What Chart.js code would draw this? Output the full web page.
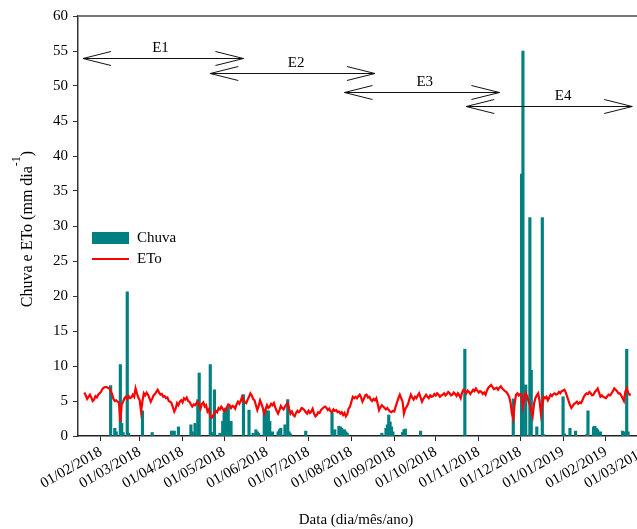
<!DOCTYPE html>
<html lang="pt-br">
<head>
  <meta charset="UTF-8">
  <title>Chuva e ETo</title>
  <script src="https://cdn.jsdelivr.net/npm/chart.js"></script>
  <style>
    html, body { margin: 0; padding: 0; overflow: hidden; background: #fff; }
    #grafico { display: block; }
  </style>
</head>
<body>
  <canvas id="grafico" width="680" height="529"></canvas>

  <script>
    // dias contados a partir de 01/01/2018
    function dia(s) {
      const [d, m, a] = s.split('/').map(Number);
      return (Date.UTC(a, m - 1, d) - Date.UTC(2018, 0, 1)) / 86400000;
    }

    const rotulosX = ["01/02/2018", "01/03/2018", "01/04/2018", "01/05/2018", "01/06/2018", "01/07/2018",
      "01/08/2018", "01/09/2018", "01/10/2018", "01/11/2018", "01/12/2018", "01/01/2019", "01/02/2019", "01/03/2019"];

    // ETo diária (mm dia-1), a partir de 20/01/2018
    const etoInicio = "20/01/2018";
    const eto = [
      6.2, 5.8, 5.3, 5.6, 5.9, 5.5, 5.0, 5.2, 5.7, 5.5, 5.9, 6.1, 6.3,
      6.7, 6.9, 7.0, 7.0, 6.9, 6.8, 6.5, 6.0, 5.3, 5.0, 5.1, 4.9, 4.8,
      2.0,
      4.5, 4.9, 5.4, 5.6, 5.3, 5.7, 5.4, 5.5, 5.9, 5.6, 6.8, 6.1, 5.5, 5.1, 3.5,
      5.0, 6.1, 5.8, 6.2, 5.9, 5.4, 4.9, 5.3, 5.8, 6.0, 6.3, 6.6,
      6.2, 5.9, 6.0, 5.6, 5.7, 5.4, 5.5, 5.0, 4.9, 4.7, 4.1, 3.5, 3.9, 4.7,
      4.4, 4.9, 5.1, 4.8, 5.4, 5.2, 5.5, 5.0, 4.9, 4.5, 4.2, 4.5, 4.4, 4.7,
      4.9, 4.5, 3.9, 4.6, 4.8, 4.2, 4.4, 3.5, 3.8, 2.8, 2.6, 2.9, 3.2, 3.6, 3.4, 4.0,
      3.8, 4.2, 3.9, 3.5, 3.7, 4.1, 4.5, 4.4, 4.0, 4.3, 4.2, 3.9, 4.5, 4.9, 4.6, 5.0, 5.6,
      5.1, 4.8, 4.7, 5.2, 5.6, 6.1, 5.8, 5.3, 5.1, 4.4, 3.7, 4.3, 5.1, 4.6, 4.0, 3.2,
      3.8, 4.4, 4.0, 4.2, 4.6, 4.4, 4.7, 4.1, 3.6, 3.2, 3.7, 4.3, 4.0, 3.8, 4.2, 4.5, 4.7, 3.9, 3.2,
      3.5, 3.0, 2.8, 3.3, 3.6, 3.4, 3.6, 4.0, 3.9, 3.7, 3.4, 3.2, 3.6, 3.3, 3.5, 3.9, 3.2, 2.8, 3.0, 3.4, 3.3, 3.7,
      3.9, 4.1, 4.2, 4.0, 3.7, 3.9, 3.5, 3.4, 3.8, 3.6, 3.7, 3.4, 3.5, 3.2, 3.4, 3.0, 3.3, 2.8, 3.1, 3.9, 4.2, 4.9, 5.6, 5.4, 5.6, 5.4,
      5.7, 5.9, 5.5, 4.9, 5.3, 5.8, 5.9, 5.5, 5.6, 5.2, 5.0, 5.3, 5.1, 5.4, 4.6, 3.7, 4.1, 4.4, 4.2, 4.0,
      3.8, 4.0, 3.7, 3.5, 3.4, 3.6, 3.5, 4.2, 4.8, 5.4, 5.9, 5.4, 4.9, 3.2,
      3.9, 4.2, 4.6, 5.3, 5.9, 5.5, 5.2, 5.6, 5.4, 5.8, 6.1, 5.5, 4.9, 5.3, 5.6, 5.9, 5.6, 5.4, 5.8, 5.6,
      5.7, 6.0, 5.8, 6.1, 5.9, 5.6, 5.8, 5.9, 6.1, 5.8, 6.0, 6.3, 6.1, 5.8, 5.9, 6.2, 6.0, 5.7, 6.1, 5.8,
      5.4, 6.2, 6.6, 6.4, 6.1, 6.5, 6.3, 6.0, 6.3, 6.6, 6.4, 6.8, 6.5, 6.2, 6.4, 6.3, 6.0, 6.2, 5.9, 6.5,
      6.9, 7.1, 7.3, 7.0, 6.7, 6.8, 6.9, 6.6, 6.9, 7.1, 6.8, 6.6, 6.4, 6.3, 6.0, 5.6, 4.8, 3.2, 2.5, 4.6,
      5.9, 6.1, 5.8, 6.0, 5.9, 4.2, 5.3, 6.1, 5.7, 5.0, 4.4, 3.5, 2.8, 4.6, 5.4, 5.8, 6.1, 5.0, 3.2, 4.5,
      5.6, 5.4, 5.6, 5.1, 5.5, 5.9, 5.7, 6.0, 6.1, 5.9, 6.0, 6.3, 6.1, 6.4, 6.5, 6.6, 6.2, 5.6, 5.0, 4.4,
      4.0, 4.3, 4.6, 4.7, 4.9, 4.6, 4.8, 4.7, 5.1, 5.6, 5.9, 6.1, 6.0, 6.3, 6.1, 5.8, 5.9, 6.3, 6.5, 6.8,
      6.2, 5.6, 5.8, 5.6, 5.5, 5.4, 5.7, 5.9, 5.8, 6.1, 6.4, 6.8, 6.6, 6.4, 6.1, 6.1, 5.8, 5.4, 5.0, 6.3,
      6.8, 6.2, 5.9, 5.9
    ];

    // chuva (mm), dias com registro
    const chuvaDias = [38, 41, 42, 45, 46, 47, 50, 51, 61, 68, 82, 83, 84, 87, 96, 97, 99, 101, 102, 110,
      111, 113, 117, 119, 120, 121, 122, 123, 124, 125, 134, 138, 141, 143, 144, 145, 149, 150, 152, 153,
      155, 159, 160, 161, 164, 166, 167, 168, 179, 198, 200, 203, 204, 205, 207, 208, 209, 234, 237, 238,
      239, 240, 241, 242, 249, 250, 251, 262, 294, 329, 335, 336, 338, 341, 342, 346, 350, 351, 365, 366,
      370, 374, 382, 383, 387, 388, 389, 390, 392, 408, 409, 411, 412];
    const chuva = [7.2, 1.1, 0.6, 10.2, 1.8, 0.5, 20.6, 0.4, 3.6, 0.5, 0.7, 0.7, 0.7, 1.3, 1.6, 0.6, 1.8, 5.2, 9.0, 10.2,
      0.5, 6.6, 0.4, 2.1, 3.3, 4.0, 3.6, 4.2, 2.1, 2.1, 5.9, 3.7, 0.4, 0.9, 0.6, 0.4, 3.7, 3.7, 3.6, 2.1,
      0.6, 0.6, 0.9, 1.1, 1.6, 5.2, 0.6, 0.3, 0.7, 3.3, 0.9, 1.4, 1.3, 1.1, 0.9, 0.6, 0.4, 0.4, 1.1, 1.6,
      3.0, 2.0, 1.3, 0.6, 0.5, 0.9, 1.0, 0.7, 12.4, 5.3, 37.4, 55.0, 7.3, 31.2, 9.4, 1.3, 31.2, 0.2, 5.6, 0.3,
      1.1, 0.7, 0.2, 3.6, 1.3, 1.4, 1.1, 0.9, 0.6, 0.7, 0.6, 12.4, 0.6];

    // fases E1..E4 (dias) e altura das setas (mm)
    const fases = ["E1", "E2", "E3", "E4"];
    const faseInicio = [18, 110, 207, 295];
    const faseFim = [134, 229, 319, 415];
    const faseNivel = [54, 51.9, 49.1, 47.1];
    const faseRotulo = [74, 172, 265, 365];

    const fonte = '"Liberation Serif", "Times New Roman", serif';
    const teal = '#008080';
    const vermelho = '#ff0000';

    const x0 = dia(etoInicio);
    const etoPontos = eto.map((v, i) => ({ x: x0 + i, y: v }));
    const chuvaPontos = chuvaDias.map((d, i) => ({ x: d, y: chuva[i] }));
    const tickDias = rotulosX.map(dia);

    const extras = {
      id: 'extras',
      afterDraw(chart) {
        const { ctx, chartArea: ca, scales: { x, y } } = chart;
        ctx.save();

        // borda superior
        ctx.strokeStyle = '#777';
        ctx.lineWidth = 2;
        ctx.beginPath();
        ctx.moveTo(ca.left, ca.top);
        ctx.lineTo(ca.right, ca.top);
        ctx.stroke();

        // setas das fases
        ctx.strokeStyle = '#111';
        ctx.lineWidth = 1;
        ctx.fillStyle = '#000';
        ctx.font = '15px ' + fonte;
        ctx.textAlign = 'center';
        ctx.textBaseline = 'alphabetic';
        fases.forEach((nome, i) => {
          const a = x.getPixelForValue(faseInicio[i]);
          const b = x.getPixelForValue(faseFim[i]);
          const h = Math.round(y.getPixelForValue(faseNivel[i])) + 0.5;
          ctx.beginPath();
          ctx.moveTo(a, h); ctx.lineTo(b, h);
          ctx.moveTo(a + 28, h - 7); ctx.lineTo(a, h); ctx.lineTo(a + 28, h + 7);
          ctx.moveTo(b - 28, h - 7); ctx.lineTo(b, h); ctx.lineTo(b - 28, h + 7);
          ctx.stroke();
          ctx.fillText(nome, x.getPixelForValue(faseRotulo[i]), h - 7);
        });

        // legenda
        ctx.textAlign = 'left';
        ctx.textBaseline = 'middle';
        ctx.fillStyle = teal;
        ctx.fillRect(92, 232, 37, 12);
        ctx.strokeStyle = vermelho;
        ctx.lineWidth = 2;
        ctx.beginPath();
        ctx.moveTo(92, 259); ctx.lineTo(129, 259);
        ctx.stroke();
        ctx.fillStyle = '#000';
        ctx.fillText('Chuva', 137, 238);
        ctx.fillText('ETo', 137, 259);

        // título eixo x
        ctx.textAlign = 'center';
        ctx.font = '15px ' + fonte;
        ctx.fillText('Data (dia/mês/ano)', 356, 520);

        // título eixo y com expoente
        ctx.translate(32, 229);
        ctx.rotate(-Math.PI / 2);
        ctx.textBaseline = 'alphabetic';
        ctx.textAlign = 'left';
        const t1 = 'Chuva e ETo (mm dia';
        ctx.font = '16px ' + fonte;
        const w1 = ctx.measureText(t1).width;
        ctx.font = '12px ' + fonte;
        const w2 = ctx.measureText('-1').width;
        ctx.font = '16px ' + fonte;
        const w3 = ctx.measureText(')').width;
        let px = -(w1 + w2 + w3) / 2;
        ctx.fillText(t1, px, 0);
        px += w1;
        ctx.font = '12px ' + fonte;
        ctx.fillText('-1', px, -12);
        px += w2;
        ctx.font = '16px ' + fonte;
        ctx.fillText(')', px, 0);

        ctx.restore();
      }
    };

    const ctx = document.getElementById('grafico').getContext('2d');
    new Chart(ctx, {
      type: 'bar',
      data: {
        datasets: [
          {
            type: 'line',
            label: 'ETo',
            data: etoPontos,
            borderColor: vermelho,
            borderWidth: 2.2,
            pointRadius: 0,
            tension: 0,
            order: 0
          },
          {
            type: 'bar',
            label: 'Chuva',
            data: chuvaPontos,
            backgroundColor: teal,
            barThickness: 2.5,
            order: 1
          }
        ]
      },
      options: {
        responsive: false,
        animation: false,
        layout: { padding: { top: 16, right: 27, left: 0, bottom: 0 } },
        plugins: { legend: { display: false }, tooltip: { enabled: false } },
        scales: {
          x: {
            type: 'linear',
            min: 14.4,
            max: 430,
            offset: false,
            grid: { display: true, drawOnChartArea: false, tickLength: 5, color: '#222', offset: false },
            border: { color: '#222', width: 1.5 },
            afterBuildTicks: s => { s.ticks = tickDias.map(v => ({ value: v })); },
            afterFit: s => { s.height = 93; },
            ticks: {
              autoSkip: false,
              minRotation: 30,
              maxRotation: 30,
              padding: 2,
              color: '#000',
              font: { family: fonte, size: 15 },
              callback: v => rotulosX[tickDias.indexOf(v)]
            }
          },
          y: {
            min: 0,
            max: 60,
            grid: { display: true, drawOnChartArea: false, tickLength: 5, color: '#333' },
            border: { color: '#333', width: 1.5 },
            afterFit: s => { s.width = 78; },
            ticks: {
              stepSize: 5,
              padding: 5,
              color: '#000',
              font: { family: fonte, size: 15 }
            }
          }
        }
      },
      plugins: [extras]
    });
  </script>
</body>
</html>
